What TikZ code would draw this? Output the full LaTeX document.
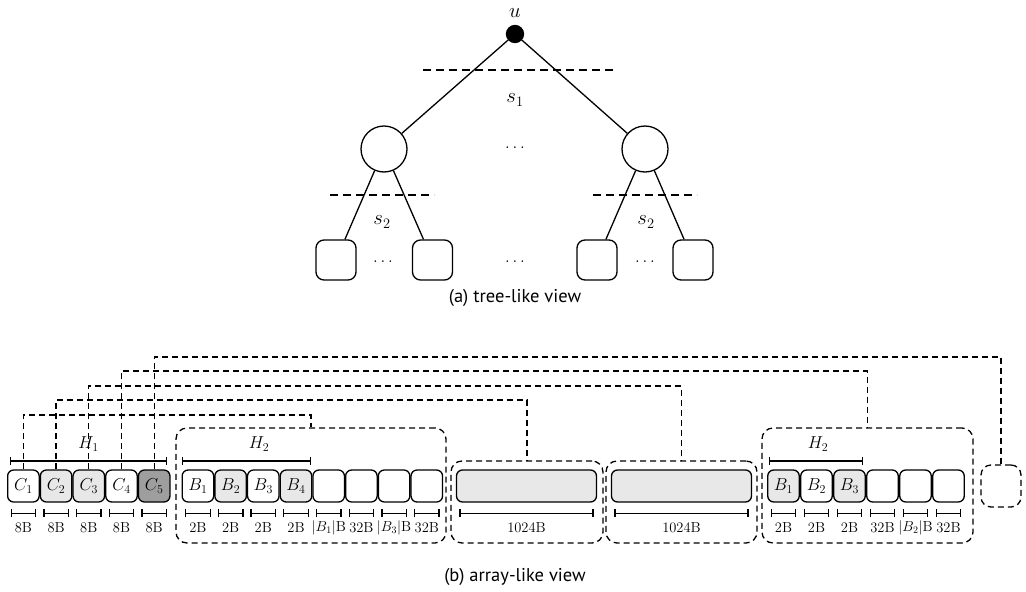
\documentclass[tikz,border=0pt]{standalone}
\usepackage{fontspec}
\newfontfamily\capfont{PT Sans}
\usetikzlibrary{calc,arrows.meta}
\begin{document}
\begin{tikzpicture}[x=1pt,y=-1pt,line width=1.3pt,
  cell/.style={draw,rounded corners=6pt,minimum width=31.5pt,minimum height=32pt,inner sep=0pt,font=\fontsize{17}{17}\selectfont},
  lg/.style={fill=black!9},
  dg/.style={fill=black!38},
  dbox/.style={draw,dash pattern=on 6pt off 4pt,rounded corners=11pt,inner sep=0pt},
  dline/.style={draw,dash pattern=on 6pt off 4pt},
  meas/.style={{Bar[width=8pt]}-{Bar[width=8pt]},line width=1.3pt},
  lab/.style={font=\fontsize{14.5}{14.5}\selectfont,inner sep=0pt},
  hlab/.style={font=\fontsize{18}{18}\selectfont,inner sep=0pt},
  captxt/.style={font=\capfont\fontsize{18.5}{18.5}\selectfont,inner sep=0pt},
  innode/.style={draw,circle,minimum size=46pt,inner sep=0pt},
  leafnode/.style={draw,rounded corners=8pt,minimum width=40pt,minimum height=40pt,inner sep=0pt},
  mlab/.style={font=\fontsize{21}{21}\selectfont,inner sep=0pt},
  dotlab/.style={font=\fontsize{17}{17}\selectfont,inner sep=0pt},
  tdash/.style={draw,dash pattern=on 8pt off 5pt}]
\useasboundingbox (0,0) rectangle (1026,592);
% ---------- tree ----------
\node[draw,circle,fill=black,minimum size=17pt,inner sep=0pt] (u) at (515,34) {};
\node[mlab] (ulab) at (515,13) {$u$};
\node[innode] (l1) at (384,149) {};
\node[innode] (r1) at (645,149) {};
\node[leafnode] (ll1) at (336,260) {};
\node[leafnode] (ll2) at (432.5,260) {};
\node[leafnode] (rl1) at (597,260) {};
\node[leafnode] (rl2) at (693,260) {};
\draw (u) -- (l1);
\draw (u) -- (r1);
\draw (l1) -- (ll1);
\draw (l1) -- (ll2);
\draw (r1) -- (rl1);
\draw (r1) -- (rl2);
\coordinate (d1a) at (423,70); \coordinate (d1b) at (617,70);
\coordinate (d2a) at (330,195); \coordinate (d2b) at (434,195);
\coordinate (d3a) at (593,195); \coordinate (d3b) at (697,195);
\draw[tdash] (d1a) -- (d1b);
\draw[tdash] (d2a) -- (d2b);
\draw[tdash] (d3a) -- (d3b);
\node[mlab] (s1) at (515,100) {$s_1$};
\node[mlab] (s2l) at (382,222) {$s_2$};
\node[mlab] (s2r) at (646,222) {$s_2$};
\node[dotlab] (dm) at (515,148) {$\ldots$};
\node[dotlab] (dl) at (383,262) {$\ldots$};
\node[dotlab] (dc) at (515,262) {$\ldots$};
\node[dotlab] (dr) at (645,262) {$\ldots$};
\node[captxt] (capa) at (515,298) {(a) tree-like view};
% ---------- array ----------
% dashed boxes
\node[dbox,minimum width=270pt,minimum height=115pt] (box1) at (311,485.5) {};
\node[dbox,minimum width=152pt,minimum height=82pt] (boxa) at (527,502) {};
\node[dbox,minimum width=151pt,minimum height=82pt] (boxb) at (681.5,502) {};
\node[dbox,minimum width=211pt,minimum height=115pt] (box3) at (867.5,485.5) {};
\node[dbox,minimum width=40pt,minimum height=42pt,rounded corners=10pt] (boxs) at (1001,486) {};
% C cells
\node[cell] (c1) at (23.4,486) {$C_1$};
\node[cell,lg] (c2) at (56.1,486) {$C_2$};
\node[cell,lg] (c3) at (88.8,486) {$C_3$};
\node[cell] (c4) at (121.5,486) {$C_4$};
\node[cell,dg] (c5) at (154.2,486) {$C_5$};
% box1 cells
\node[cell] (a1) at (197.9,486) {$B_1$};
\node[cell,lg] (a2) at (230.6,486) {$B_2$};
\node[cell] (a3) at (263.3,486) {$B_3$};
\node[cell,lg] (a4) at (296.0,486) {$B_4$};
\node[cell] (a5) at (328.7,486) {};
\node[cell] (a6) at (361.4,486) {};
\node[cell] (a7) at (394.1,486) {};
\node[cell] (a8) at (426.8,486) {};
% 1024 cells
\node[cell,lg,minimum width=140pt] (k1) at (526.5,486) {};
\node[cell,lg,minimum width=140pt] (k2) at (681.5,486) {};
% box3 cells
\node[cell,lg] (b1) at (783.5,486) {$B_1$};
\node[cell] (b2) at (816.5,486) {$B_2$};
\node[cell,lg] (b3) at (849.5,486) {$B_3$};
\node[cell] (b4) at (882.5,486) {};
\node[cell] (b5) at (915.5,486) {};
\node[cell] (b6) at (948.5,486) {};
% measures
\foreach \n/\l in {c1/8B,c2/8B,c3/8B,c4/8B,c5/8B,a1/2B,a2/2B,a3/2B,a4/2B,a5/{$|B_1|$B},a6/32B,a7/{$|B_3|$B},a8/32B,k1/1024B,k2/1024B,b1/2B,b2/2B,b3/2B,b4/32B,b5/{$|B_2|$B},b6/32B}{
  \draw[meas] ($(\n.south west)+(3.5,10.5)$) -- ($(\n.south east)+(-3.5,10.5)$);
  \node[lab] (\n lab) at ($(\n.south)+(0,25)$) {\l};
}
% H bars
\coordinate (h1a) at (10,461); \coordinate (h1b) at (167,461);
\coordinate (h2a) at (182,461); \coordinate (h2b) at (311,461);
\coordinate (h3a) at (769,461); \coordinate (h3b) at (863,461);
\draw[meas] (h1a) -- (h1b);
\draw[meas] (h2a) -- (h2b);
\draw[meas] (h3a) -- (h3b);
\node[hlab] (H1) at (88.5,444) {$H_1$};
\node[hlab] (H2a) at (259,444) {$H_2$};
\node[hlab] (H2b) at (818,444) {$H_2$};
% connectors
\draw[dline] (c1.north) -- (c1.north |- 0,415) -- (box1.north |- 0,415) -- (box1.north);
\draw[dline] (c2.north) -- (c2.north |- 0,400) -- (boxa.north |- 0,400) -- (boxa.north);
\draw[dline] (c3.north) -- (c3.north |- 0,386) -- (boxb.north |- 0,386) -- (boxb.north);
\draw[dline] (c4.north) -- (c4.north |- 0,371) -- (box3.north |- 0,371) -- (box3.north);
\draw[dline] (c5.north) -- (c5.north |- 0,357) -- (boxs.north |- 0,357) -- (boxs.north);
\node[captxt] (capb) at (515,577) {(b) array-like view};
\end{tikzpicture}
\end{document}
